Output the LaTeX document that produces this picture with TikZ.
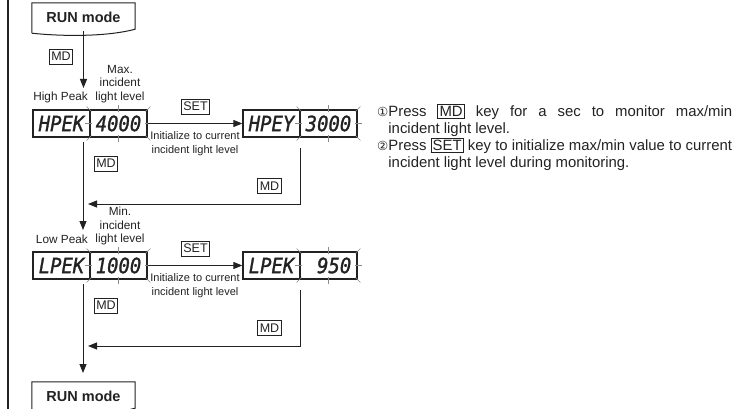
\documentclass[tikz,border=0pt]{standalone}
\usepackage{fontspec}
\setmainfont{Liberation Sans}
\newfontfamily\segfont{DejaVu Sans Mono}[FakeStretch=0.9, FakeBold=1.3]
\newfontfamily\symfont{DejaVu Sans}
\usetikzlibrary{arrows.meta, positioning, calc}
\definecolor{ink}{HTML}{222222}
\definecolor{tickgray}{HTML}{8A8A8A}
\newcommand\lblfont{\fontsize{11.8}{13.5}\selectfont}
\newcommand\keyfont{\fontsize{12.5}{12.5}\selectfont}
\newcommand\circnum[1]{{\symfont\fontsize{12.5}{12.5}\selectfont #1}}
\newcommand\keytag[1]{{\setlength\fboxsep{1.5pt}\setlength\fboxrule{0.6pt}\fbox{#1}}}
% blinking marks round a value cell
\newcommand\blinkmarks[1]{%
  \foreach \a/\u/\v in {north/0/-1, south/0/1, east/1/0, west/-1/0,
      north east/0.7/-0.7, north west/-0.7/-0.7, south east/0.7/0.7, south west/-0.7/0.7}
    \draw[blink] ($(#1.\a)+({4*\u},{4*\v})$) -- ($(#1.\a)+({-3*\u},{-3*\v})$);}
% box with a wavy bottom edge
\newcommand\docshape[1]{%
  \draw[ink, line width=1pt] ($(#1.south west)+(0,2)$) -- (#1.north west) -- (#1.north east)
    -- ($(#1.south east)+(0,-2)$) .. controls +(-30,8) and +(28,3) .. ($(#1.south west)+(0,2)$);}

\begin{document}
\begin{tikzpicture}[x=1pt, y=-1pt,
  every node/.style={font=\lblfont, text=ink},
  lbl/.style={align=center, inner sep=0pt},
  key/.style={draw=ink, line width=0.6pt, inner sep=2pt, minimum height=15pt, font=\keyfont},
  cell/.style={draw=ink, line width=1.3pt, minimum width=57pt, minimum height=27pt,
    inner sep=0pt, font=\segfont\itshape\fontsize{21}{21}\selectfont},
  runbox/.style={minimum width=103pt, minimum height=28pt, font=\bfseries\fontsize{14.5}{15}\selectfont},
  note/.style={align=left, inner sep=0pt, font=\fontsize{14.9}{17}\selectfont},
  arr/.style={-{Triangle[length=9pt,width=7pt]}, line width=0.9pt, ink},
  blink/.style={tickgray, line width=0.5pt},
]
  \useasboundingbox (0,0) rectangle (747,409);
  \draw[line width=2.2pt, ink] (8,0) -- (8,409);

  % high peak
  \node[runbox] (run1) at (83.5,17) {RUN mode};
  \docshape{run1}
  \node[key] (md1) at (61,56.5) {MD};
  \coordinate (hin) at (83.5,88);
  \draw[arr] (run1.south) -- (hin);

  \node[lbl] (maxlbl) at (120,84) {Max.\\incident\\light level};
  \node[lbl, anchor=east] (hilbl) at (88,97.5) {High Peak};
  \node[cell] (hpk) at (61.5,123.5) {HPEK};
  \node[cell] (hmax) at (118.5,123.5) {4000};
  \blinkmarks{hmax}
  \node[key] (set1) at (195.5,106.5) {SET};
  \node[cell] (hpk2) at (271.5,123.5) {HPEY};
  \node[cell] (hnow) at (328.5,123.5) {3000};
  \blinkmarks{hnow}
  \draw[arr] (hmax) -- (hpk2);
  \node[lbl, font=\fontsize{11}{14}\selectfont] (init1) at (195,144) {Initialize to current\\incident light level};

  \coordinate (hdown) at (300,148);
  \coordinate (hback) at (88,204);
  \draw[arr] (hdown) |- (hback);
  \node[key] (md2) at (269.5,186) {MD};
  \coordinate (hout) at (83,142);
  \coordinate (lin) at (83,230);
  \draw[arr] (hout) -- (lin);
  \node[key] (md3) at (106,163.5) {MD};

  % low peak
  \node[lbl] (minlbl) at (120,226) {Min.\\incident\\light level};
  \node[lbl, anchor=east] (lolbl) at (88,239.5) {Low Peak};
  \node[cell] (lpk) at (61.5,265.5) {LPEK};
  \node[cell] (lmin) at (118.5,265.5) {1000};
  \blinkmarks{lmin}
  \node[key] (set2) at (195.5,248.5) {SET};
  \node[cell] (lpk2) at (271.5,265.5) {LPEK};
  \node[cell] (lnow) at (328.5,265.5) {\phantom{0}950};
  \blinkmarks{lnow}
  \draw[arr] (lmin) -- (lpk2);
  \node[lbl, font=\fontsize{11}{14}\selectfont] (init2) at (195,286) {Initialize to current\\incident light level};

  \coordinate (ldown) at (300,290);
  \coordinate (lback) at (88,346);
  \draw[arr] (ldown) |- (lback);
  \node[key] (md4) at (269.5,328) {MD};
  \coordinate (lout) at (83,284);
  \coordinate (rin) at (83,373);
  \draw[arr] (lout) -- (rin);
  \node[key] (md5) at (106,305.5) {MD};

  \node[runbox] (run2) at (83.5,396) {RUN mode};
  \docshape{run2}

  % notes
  \node[note, anchor=north west] (notes) at (377,104) {%
    \makebox[355pt][s]{\circnum{①}Press \keytag{MD} key for a sec to monitor max/min}\\
    \phantom{\circnum{①}}incident light level.\\
    \circnum{②}Press \keytag{SET} key to initialize max/min value to current\\
    \phantom{\circnum{②}}incident light level during monitoring.};
\end{tikzpicture}
\end{document}
